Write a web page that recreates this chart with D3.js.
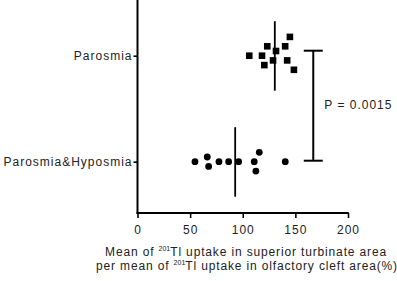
<!DOCTYPE html>
<html>
<head>
<meta charset="utf-8">
<script src="https://cdn.jsdelivr.net/npm/d3@7"></script>
<style>
  body { margin: 0; background: #fff; }
  text { font-family: "Liberation Sans", Arial, sans-serif; fill: #222; }
</style>
</head>
<body>
<div id="chart"></div>
<script>
// groups, top to bottom
const groups = ['Parosmia', 'Parosmia&Hyposmia'];

// values, plus the row Prism stacked each point in
const parosmiaValues = [106.2, 118.3, 123.3, 120.5, 131.6, 128.8, 140.3, 144.8, 142.2, 148.6];
const parosmiaRows   = [0, 0, -2, 2, -1, 1, -2, -4, 1, 3];
const hyposmiaValues = [54.6, 66.3, 67.6, 77.4, 86.6, 96.1, 110.9, 115.7, 112.5, 140.4];
const hyposmiaRows   = [0, -1, 1, 0, 0, 0, 0, -2, 2, 0];

const xTicks = [0, 50, 100, 150, 200];
const pLabel = 'P = 0.0015';
const bracketAt = 167;

const width = 397, height = 281;

const svg = d3.select('#chart').append('svg')
  .attr('width', width)
  .attr('height', height);

//// scales
const xScale = d3.scaleLinear()
  .domain([0, 200])
  .range([137.5, 348]);

const yScale = d3.scalePoint()
  .domain(groups)
  .range([2.7, 214.7])
  .padding(0.5);

const rowScale = d3.scaleLinear()
  .domain([0, 1])
  .range([0, 4.7]);

const axisY = 213;

//// x axis
const xAxis = svg.append('g')
  .attr('transform', `translate(0,${axisY})`)
  .call(d3.axisBottom(xScale).tickValues(xTicks).tickSize(5).tickSizeOuter(0));

xAxis.select('.domain').remove();
xAxis.selectAll('.tick line').attr('stroke', '#000').attr('stroke-width', 1.6);
xAxis.selectAll('.tick text')
  .attr('y', 12)
  .style('font-size', '12px')
  .style('letter-spacing', '1px')
  .attr('fill', '#222');

svg.append('line')
  .attr('x1', xScale(0) - 1).attr('x2', xScale(200) + 0.8)
  .attr('y1', axisY).attr('y2', axisY)
  .attr('stroke', '#000').attr('stroke-width', 2);

//// y axis
const yAxis = svg.append('g')
  .attr('transform', `translate(${xScale(0)},0)`)
  .call(d3.axisLeft(yScale).tickSize(4).tickSizeOuter(0));

yAxis.select('.domain').remove();
yAxis.selectAll('.tick line').attr('stroke', '#000').attr('stroke-width', 1.6);
yAxis.selectAll('.tick text')
  .attr('x', -5)
  .style('font-size', '12px')
  .style('letter-spacing', '1px')
  .attr('fill', '#222');

svg.append('line')
  .attr('x1', xScale(0)).attr('x2', xScale(0))
  .attr('y1', 0).attr('y2', axisY + 1)
  .attr('stroke', '#000').attr('stroke-width', 2);

//// points
const parosmia = parosmiaValues.map((v, i) => ({value: v, row: parosmiaRows[i]}));
const hyposmia = hyposmiaValues.map((v, i) => ({value: v, row: hyposmiaRows[i]}));

svg.append('g').selectAll('rect')
  .data(parosmia)
  .join('rect')
  .attr('x', d => xScale(d.value) - 3.3)
  .attr('y', d => yScale(groups[0]) + rowScale(d.row) - 3.3)
  .attr('width', 6.6)
  .attr('height', 6.6)
  .attr('fill', '#000');

svg.append('g').selectAll('circle')
  .data(hyposmia)
  .join('circle')
  .attr('cx', d => xScale(d.value))
  .attr('cy', d => yScale(groups[1]) + rowScale(d.row))
  .attr('r', 3.4)
  .attr('fill', '#000');

//// mean lines
const means = [
  {group: groups[0], value: d3.mean(parosmiaValues)},
  {group: groups[1], value: d3.mean(hyposmiaValues)}
];

svg.append('g').selectAll('line')
  .data(means)
  .join('line')
  .attr('x1', d => xScale(d.value)).attr('x2', d => xScale(d.value))
  .attr('y1', d => yScale(d.group) - 34.5)
  .attr('y2', d => yScale(d.group) + 35)
  .attr('stroke', '#000')
  .attr('stroke-width', 1.8);

//// significance bracket
const bx = xScale(bracketAt);
const bTop = yScale(groups[0]) - 5;
const bBottom = yScale(groups[1]) - 1;
const bracket = svg.append('g').attr('stroke', '#000').attr('stroke-width', 2);
bracket.append('line').attr('x1', bx).attr('x2', bx).attr('y1', bTop).attr('y2', bBottom);
bracket.append('line').attr('x1', bx - 9.5).attr('x2', bx + 9.5).attr('y1', bTop).attr('y2', bTop);
bracket.append('line').attr('x1', bx - 9.5).attr('x2', bx + 9.5).attr('y1', bBottom).attr('y2', bBottom);

svg.append('text')
  .attr('x', bx + 11)
  .attr('y', (bTop + bBottom) / 2 + 3)
  .style('font-size', '12px')
  .style('letter-spacing', '1px')
  .text(pLabel);

//// x axis title
const title = svg.append('g')
  .style('font-size', '12px')
  .style('letter-spacing', '0.85px');

const line1 = title.append('text')
  .attr('x', 246).attr('y', 255.7)
  .attr('text-anchor', 'middle');
line1.append('tspan').text('Mean of ');
line1.append('tspan').attr('dy', -5).style('font-size', '7px').style('letter-spacing', '0px').text('201');
line1.append('tspan').attr('dy', 5).text('Tl uptake in superior turbinate area');

const line2 = title.append('text')
  .attr('x', 247).attr('y', 270)
  .attr('text-anchor', 'middle');
line2.append('tspan').text('per mean of ');
line2.append('tspan').attr('dy', -5).style('font-size', '7px').style('letter-spacing', '0px').text('201');
line2.append('tspan').attr('dy', 5).text('Tl uptake in olfactory cleft area(%)');
</script>
</body>
</html>
